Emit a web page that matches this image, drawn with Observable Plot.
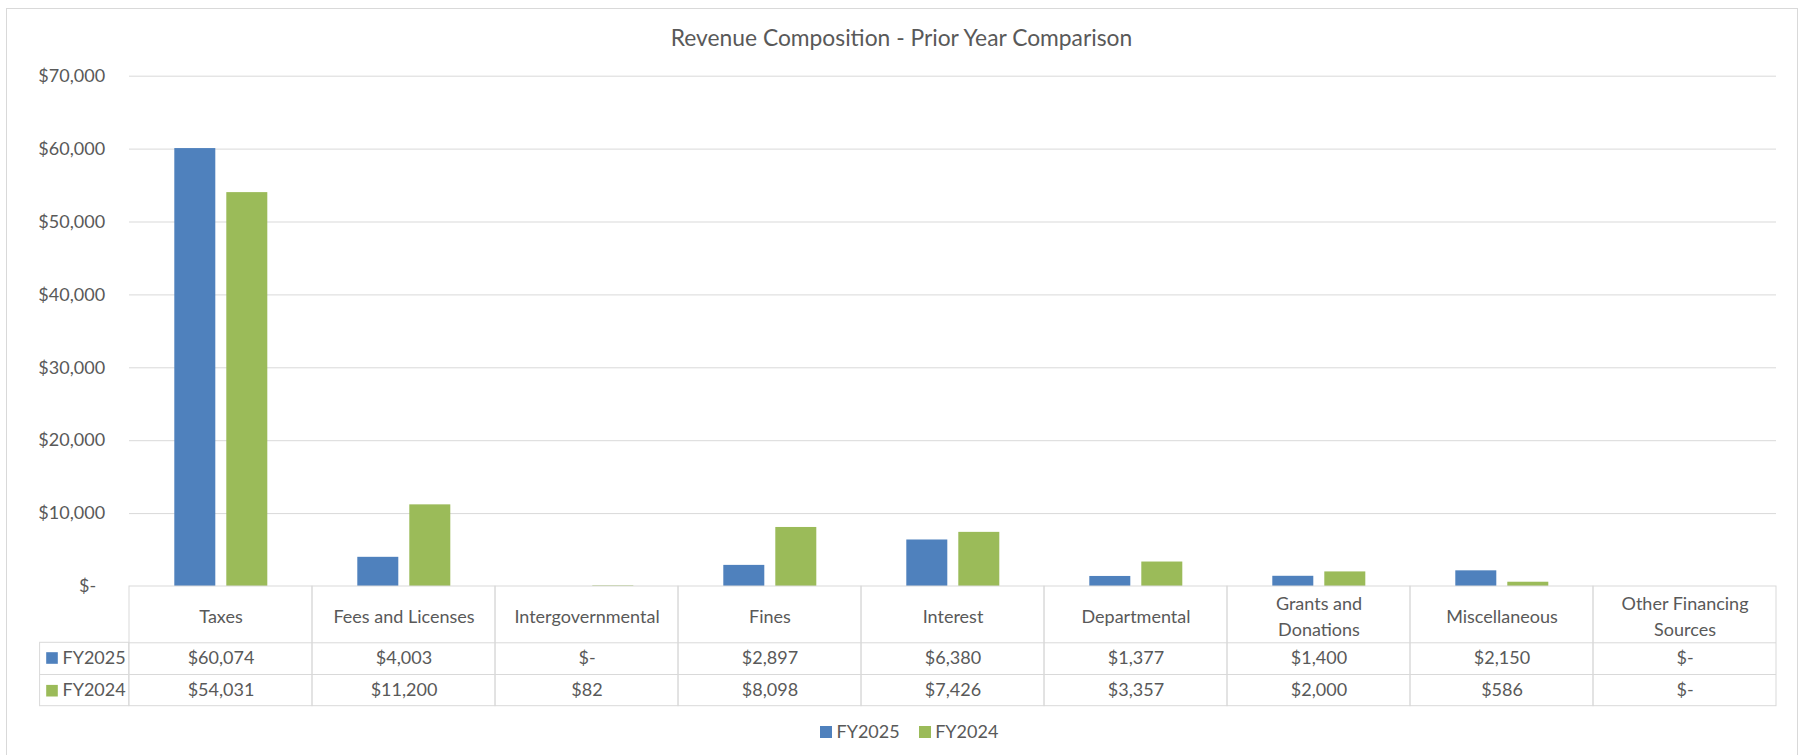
<!DOCTYPE html>
<html>
<head>
<meta charset="utf-8">
<script src="https://cdn.jsdelivr.net/npm/d3@7"></script>
<script src="https://cdn.jsdelivr.net/npm/@observablehq/plot@0.6"></script>
<style>
html,body{margin:0;padding:0;background:#fff;}
body{width:1799px;height:755px;position:relative;overflow:hidden;font-family:Lato,sans-serif;color:#595959;}
#frame{position:absolute;left:6px;top:8px;width:1792px;height:800px;border:1px solid #d9d9d9;box-sizing:border-box;}
#title{position:absolute;left:4px;width:1795px;top:23.5px;font-size:22.8px;line-height:1.2;text-align:center;white-space:nowrap;}
#chart{position:absolute;left:0;top:48px;}
#legend{position:absolute;left:820px;top:721px;display:flex;align-items:center;font-size:18px;line-height:1.2;white-space:nowrap;}
#legend .item{display:flex;align-items:center;margin-right:19px;}
#legend .sw{display:inline-block;width:12px;height:12px;margin-right:4.5px;}
</style>
</head>
<body>
<div id="frame"></div>
<div id="title">Revenue Composition - Prior Year Comparison</div>
<div id="chart"></div>
<div id="legend"></div>
<script>
// ---- data ----
const categories = ["Taxes", "Fees and Licenses", "Intergovernmental", "Fines", "Interest", "Departmental", "Grants and Donations", "Miscellaneous", "Other Financing Sources"];
const categoryLabels = ["Taxes", "Fees and Licenses", "Intergovernmental", "Fines", "Interest", "Departmental", "Grants and\nDonations", "Miscellaneous", "Other Financing\nSources"];
const series = ["FY2025", "FY2024"];
const fy2025 = [60074, 4003, 0, 2897, 6380, 1377, 1400, 2150, 0];
const fy2024 = [54031, 11200, 82, 8098, 7426, 3357, 2000, 586, 0];
const yTicks = [0, 10000, 20000, 30000, 40000, 50000, 60000, 70000];
const seriesColors = ["#4f81bd", "#9bbb59"];

const rows = categories.flatMap((c, i) => [
  {category: c, label: categoryLabels[i], series: series[0], value: fy2025[i]},
  {category: c, label: categoryLabels[i], series: series[1], value: fy2024[i]}
]);

const money = v => v === 0 ? "$-" : d3.format("$,")(v);
const yFmt = v => v === 0 ? "$-\u2002" : d3.format("$,")(v);

// ---- layout ----
const W = 1799, H = 664;
const mL = 127.7, mR = 21.7, mT = 27.7, mB = 126;
const bw = (W - mL - mR) / categories.length;
const line = "#d9d9d9";
const rowTop1 = 56.3, rowTop2 = 88, tableBottom = 119.7;
const isFirst = d => d.category === categories[0];

const chart = Plot.plot({
  width: W, height: H,
  marginLeft: mL, marginRight: mR, marginTop: mT, marginBottom: mB,
  style: {fontFamily: "Lato, sans-serif", fontSize: "18px", color: "#595959", background: "transparent", overflow: "visible"},
  facet: {data: rows, x: "category"},
  fx: {domain: categories, padding: 0, axis: null},
  x: {domain: series, paddingInner: 0.216, paddingOuter: 0.86, axis: null},
  y: {domain: [0, 70000], ticks: yTicks, tickFormat: yFmt, tickSize: 0, tickPadding: 24.4, label: null},
  color: {domain: series, range: seriesColors},
  marks: [
    Plot.ruleY(yTicks.filter(v => v > 0), {stroke: line}),
    Plot.barY(rows, {x: "series", y: "value", fill: "series"}),
    // table column boxes
    Plot.rect([0], {y1: d => d, y2: d => d, insetBottom: -tableBottom, fill: "none", stroke: line}),
    Plot.ruleY([0], {dy: rowTop1, stroke: line}),
    Plot.ruleY([0], {dy: rowTop2, stroke: line}),
    // series-label column on the left of the first column
    Plot.rect(rows, {filter: d => isFirst(d) && d.series === series[0], y1: () => 0, y2: () => 0,
      insetTop: rowTop1, insetBottom: -tableBottom, insetLeft: -89.4, insetRight: bw, fill: "none", stroke: line}),
    Plot.ruleY(rows, {filter: d => isFirst(d) && d.series === series[0], y: () => 0, dy: rowTop2,
      insetLeft: -89.4, insetRight: bw, stroke: line}),
    // category labels
    Plot.text(rows, {filter: d => d.series === series[0], text: "label", frameAnchor: "bottom", dy: 28.2, lineAnchor: "middle", lineHeight: 1.45}),
    // values
    Plot.text(rows, {filter: d => d.series === series[0], text: d => money(d.value), frameAnchor: "bottom", lineAnchor: "middle", dy: 72.2}),
    Plot.text(rows, {filter: d => d.series === series[1], text: d => money(d.value), frameAnchor: "bottom", lineAnchor: "middle", dy: 103.9}),
    // row keys
    Plot.dot(rows, {filter: d => isFirst(d) && d.series === series[0], frameAnchor: "bottom-left", dx: -77.5, dy: 71.5, symbol: "square", r: 6.55, fill: "series"}),
    Plot.dot(rows, {filter: d => isFirst(d) && d.series === series[1], frameAnchor: "bottom-left", dx: -77.5, dy: 104.2, symbol: "square", r: 6.55, fill: "series"}),
    Plot.text(rows, {filter: d => isFirst(d) && d.series === series[0], text: "series", frameAnchor: "bottom-left", textAnchor: "start", lineAnchor: "middle", dx: -67, dy: 72.2}),
    Plot.text(rows, {filter: d => isFirst(d) && d.series === series[1], text: "series", frameAnchor: "bottom-left", textAnchor: "start", lineAnchor: "middle", dx: -67, dy: 103.9})
  ]
});
document.getElementById("chart").appendChild(chart);

// legend
const colorScale = chart.scale("color");
const legend = document.getElementById("legend");
colorScale.domain.forEach((s, i) => {
  const item = document.createElement("span");
  item.className = "item";
  const sw = document.createElement("span");
  sw.className = "sw";
  sw.style.background = colorScale.range[i];
  item.appendChild(sw);
  item.appendChild(document.createTextNode(s));
  legend.appendChild(item);
});
</script>
</body>
</html>
